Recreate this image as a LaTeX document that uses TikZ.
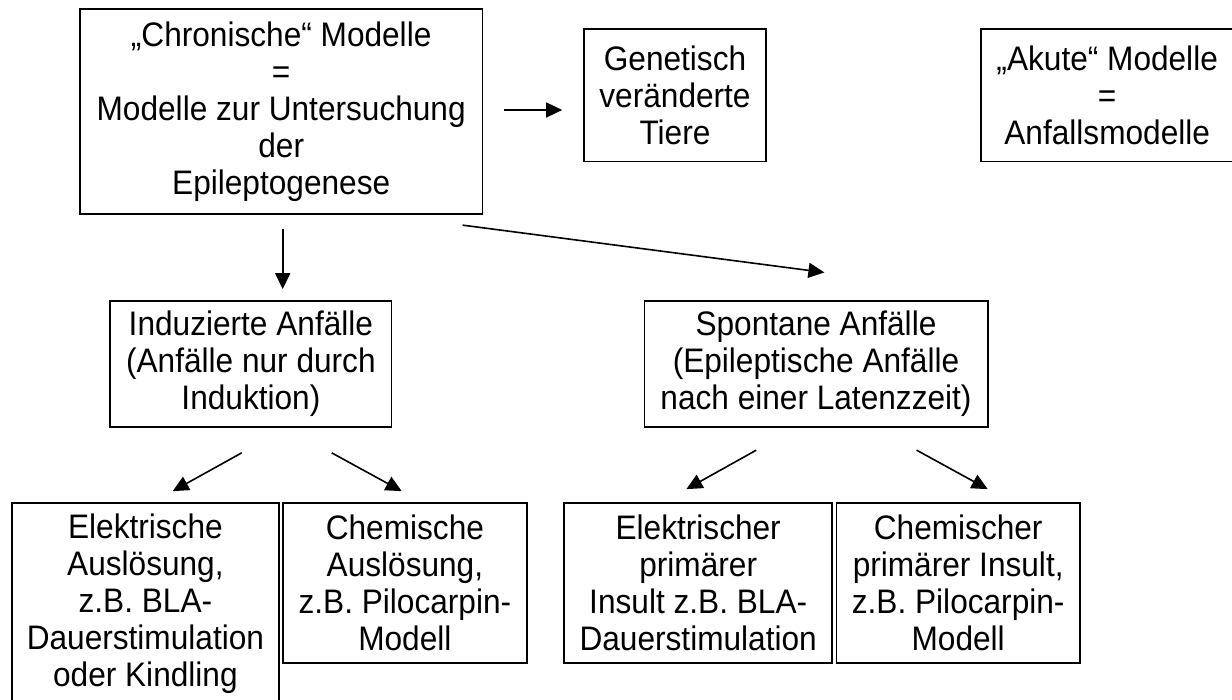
\documentclass[tikz,border=0pt]{standalone}
\usepackage{fontspec}
\setmainfont{Liberation Sans}[FakeStretch=0.93]
\usetikzlibrary{arrows.meta,calc}
\begin{document}
\begin{tikzpicture}[x=1pt,y=-1pt,
  box/.style={draw, line width=1.7pt, inner sep=0pt, align=center,
    font=\fontsize{34}{37}\selectfont},
  arr/.style={line width=1.6pt, -{Triangle[length=16pt,width=15pt]}}]
% page frame
\useasboundingbox (0,0) rectangle (1232,700);
\clip (0,0) rectangle (1232,700);
\fill[white] (0,0) rectangle (1232,700);

% top row
\node[box, minimum width=402.5pt, minimum height=205pt] (chron) at (281.2,111.5)
  {„Chronische“ Modelle\\=\\Modelle zur Untersuchung\\der\\Epileptogenese};
\node[box, minimum width=182pt, minimum height=132.7pt] (gen) at (675,95.3)
  {Genetisch\\veränderte\\Tiere};
\node[box, minimum width=252pt, minimum height=132.7pt] (akut) at (1107.2,95.3)
  {„Akute“ Modelle\\=\\Anfallsmodelle};

% middle row
\node[box, minimum width=281.2pt, minimum height=126pt] (ind) at (250.9,364)
  {Induzierte Anfälle\\(Anfälle nur durch\\Induktion)};
\node[box, minimum width=343.3pt, minimum height=126pt] (spon) at (816,364)
  {Spontane Anfälle\\(Epileptische Anfälle\\nach einer Latenzzeit)};

% bottom row
\node[box, minimum width=267.2pt, minimum height=201.2pt] (elek) at (145.4,603.3)
  {Elektrische\\Auslösung,\\z.B. BLA-\\Dauerstimulation\\oder Kindling};
\node[box, minimum width=243.7pt, minimum height=160pt] (chem) at (404.9,582.7)
  {Chemische\\Auslösung,\\z.B. Pilocarpin-\\Modell};
\node[box, minimum width=267.8pt, minimum height=160pt] (elekp) at (698.2,582.7)
  {Elektrischer\\primärer\\Insult z.B. BLA-\\Dauerstimulation};
\node[box, minimum width=243.5pt, minimum height=160pt] (chemp) at (958.2,582.7)
  {Chemischer\\primärer Insult,\\z.B. Pilocarpin-\\Modell};

% arrow ends, kept clear of the boxes
\coordinate (a1s) at ($(chron.east)+(21,-1.5)$);
\coordinate (a1e) at ($(gen.west)+(-21,14.7)$);
\coordinate (a2s) at ($(chron.south)+(1.5,14)$);
\coordinate (a2e) at ($(ind.north)+(31.8,-11)$);
\coordinate (a3s) at ($(chron.south east)+(-20.7,10.3)$);
\coordinate (a3e) at ($(spon.north)+(8.4,-27.7)$);
\coordinate (a4s) at ($(ind.south)+(-9.2,25)$);
\coordinate (a4e) at ($(elek.north)+(27.3,-10.7)$);
\coordinate (a5s) at ($(ind.south)+(80.8,25)$);
\coordinate (a5e) at ($(chem.north)+(-3.2,-10.7)$);
\coordinate (a6s) at ($(spon.south)+(-59.7,22.3)$);
\coordinate (a6e) at ($(elekp.north)+(-11.8,-12.7)$);
\coordinate (a7s) at ($(spon.south)+(100.6,22.3)$);
\coordinate (a7e) at ($(chemp.north)+(29.5,-12.7)$);

\draw[arr] (a1s) -- (a1e);
\draw[arr] (a2s) -- (a2e);
\draw[arr] (a3s) -- (a3e);
\draw[arr] (a4s) -- (a4e);
\draw[arr] (a5s) -- (a5e);
\draw[arr] (a6s) -- (a6e);
\draw[arr] (a7s) -- (a7e);
\end{tikzpicture}
\end{document}
